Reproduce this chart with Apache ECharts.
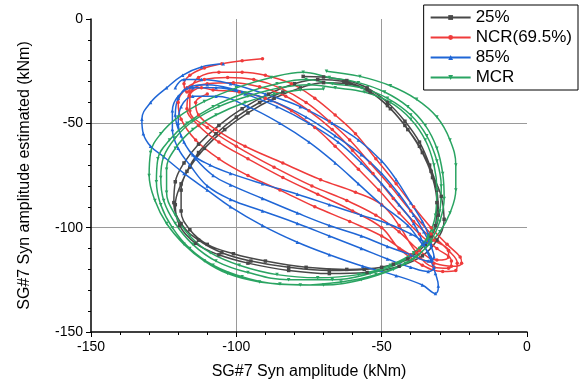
<!DOCTYPE html>
<html>
<head>
<meta charset="utf-8">
<script src="https://cdn.jsdelivr.net/npm/echarts@6/dist/echarts.min.js"></script>
<style>
  html, body { margin: 0; padding: 0; background: #fff; }
  #main { width: 579px; height: 385px; }
</style>
</head>
<body>
<div id="main"></div>
<script>
// tick labels / axis range
const xTicks = [-150, -100, -50, 0]
const yTicks = [-150, -100, -50, 0]

// 25% load (several overlapping cycles)
const load25 = [
  [-77, -27.5], [-70, -27.8], [-62, -29.5], [-55, -33], [-48, -40], [-42, -49], [-37, -59], [-33.5, -70],
  [-31, -82], [-30.5, -94], [-33, -104], [-38, -112], [-46, -117.5], [-56, -120], [-68, -120.5], [-82, -119],
  [-95, -116], [-105, -112], [-113, -106], [-119, -98], [-121.5, -88], [-121, -78], [-118, -69], [-113, -60],
  [-106, -51], [-98, -43], [-89, -36], [-80, -31], [-72, -29], [-63, -30], [-55, -34], [-48, -41.5],
  [-42, -51], [-37, -61], [-33, -73], [-29.5, -85], [-28.5, -96], [-31, -106], [-36, -113.5], [-44, -118.5],
  [-55, -121.5], [-68, -122], [-82, -120.5], [-96, -117], [-106, -113], [-114, -107.5], [-119.5, -99], [-121, -89],
  [-119, -79], [-116, -71], [-111, -62], [-104, -53], [-96, -45], [-87, -38], [-78, -33], [-70, -30.5],
  [-62, -31], [-54, -35], [-47, -43], [-41, -53], [-36, -64], [-32.5, -76], [-31, -88], [-31.5, -99],
  [-35, -108], [-41, -115], [-50, -119], [-62, -120], [-76, -119], [-90, -116], [-101, -112.5], [-110, -108],
  [-116, -101], [-119, -92], [-119, -82], [-117, -73], [-113, -64], [-107, -55], [-100, -47], [-92, -40], [-84, -35]
]

// NCR (69.5%)
const ncr = [
  [-91, -19], [-98, -20], [-105, -21.5], [-111, -23.5], [-116, -27], [-118, -31], [-117, -35],
  [-113, -28], [-106, -25.5], [-98, -25.5], [-90, -27], [-81, -31], [-73, -38], [-66, -46], [-59, -55],
  [-52, -67], [-45, -79], [-39, -90], [-33, -100], [-27.5, -108], [-23, -114], [-22.5, -117], [-26, -118.5],
  [-32, -117], [-40, -113], [-50, -104], [-61, -97], [-73, -90], [-85, -82], [-96, -75], [-106, -67],
  [-114, -58], [-119, -48], [-120, -40], [-117, -33],
  [-111, -29], [-103, -28], [-94, -29], [-85, -33], [-76, -40], [-68, -49], [-61, -58], [-54, -69],
  [-47, -80], [-40, -92], [-33, -103], [-27, -111], [-24, -117], [-24.5, -120.5], [-29, -121], [-36, -118],
  [-44, -110], [-50, -100], [-60, -92], [-72, -84], [-84, -76], [-96, -67], [-106, -59], [-113, -51],
  [-117, -43], [-116, -35],
  [-110, -31], [-101, -30.5], [-92, -32.5], [-83, -37], [-75, -44], [-67, -53], [-60, -63], [-53, -74],
  [-46, -86], [-39, -97], [-32, -106], [-27, -111], [-27, -114], [-31, -115.5], [-37, -111], [-44, -102],
  [-52, -94], [-62, -87], [-74, -80], [-87, -71], [-100, -61], [-110, -52], [-116, -44], [-116, -37], [-112, -33],
  [-108, -34], [-99, -35], [-90, -38], [-81, -44], [-73, -52], [-66, -61], [-58, -72], [-51, -82],
  [-44, -93], [-37, -103], [-31, -110], [-26, -116], [-27, -119.5], [-32, -119], [-38, -112], [-44, -99],
  [-50, -89], [-59, -83], [-71, -77], [-84, -69], [-97, -61], [-107, -53], [-113, -46], [-114, -40], [-110, -36]
]

// 85% load
const load85 = [
  [-104.5, -21.5], [-112, -23], [-118.5, -27], [-124, -33], [-129.5, -40], [-132.5, -48], [-132, -55], [-129.5, -61],
  [-125, -66], [-118, -74], [-110, -82], [-102, -90], [-91, -99], [-79, -107], [-68, -113], [-56.5, -118.5],
  [-45, -123], [-36, -127.5], [-31.5, -131.5], [-30.5, -128], [-31.5, -122], [-33, -116], [-35.5, -108], [-39, -98],
  [-44, -89], [-50, -79], [-57, -69], [-65, -59], [-75, -50], [-86, -42], [-97, -36], [-107, -33],
  [-115, -33], [-120, -37], [-122, -44], [-122, -53], [-120, -62], [-116, -70],
  [-110, -80], [-102, -86.5], [-91, -92], [-79, -98], [-68, -104], [-57, -110], [-48, -115], [-40, -119],
  [-34, -121], [-32, -119], [-33, -114], [-36, -108], [-41, -99], [-50, -89], [-58, -79], [-66, -69],
  [-75, -59], [-85, -50], [-96, -42], [-107, -37], [-115, -37], [-119, -42], [-120, -50], [-118, -59], [-114, -67],
  [-108, -75], [-102, -79.5], [-91, -86], [-79, -93], [-68, -99], [-57, -104], [-48, -109], [-40, -113],
  [-34, -116], [-32, -114], [-33, -109], [-35.5, -102], [-39, -94], [-44, -84], [-50, -74], [-57, -65],
  [-66, -56], [-76, -47], [-88, -39], [-100, -34], [-110, -31.5], [-117, -33], [-120, -38], [-121, -46],
  [-119, -56], [-115, -65],
  [-109, -70], [-102, -74], [-91, -79], [-79, -84], [-68, -89], [-57, -94], [-48, -98], [-40, -103],
  [-35, -107], [-33, -108], [-34, -103], [-36, -97], [-40, -88], [-45, -77], [-50, -68], [-58, -58],
  [-67, -50], [-78, -42], [-90, -36], [-102, -31], [-112, -29], [-118, -29], [-121, -33]
]

// MCR
const mcr = [
  [-69, -25], [-57.5, -27.5], [-47, -32], [-38, -38.5], [-31, -47], [-26.5, -58], [-24.5, -70], [-24.5, -82],
  [-26.5, -93], [-30, -102], [-35, -110], [-42, -117], [-52, -122.5], [-64, -126], [-78, -127.5], [-92, -126],
  [-103, -122], [-111, -116], [-118, -108], [-124, -98], [-128, -87], [-130, -75], [-129.5, -64], [-126, -55],
  [-120, -47], [-111, -39.5], [-100, -33], [-88, -28], [-77, -25.5],
  [-68, -28], [-58, -30.5], [-49, -35], [-41, -42], [-35, -51], [-31, -62], [-29, -74], [-28.5, -86],
  [-30, -97], [-33, -106], [-38, -114], [-46, -120], [-57, -125], [-70, -127.5], [-85, -127], [-98, -123.5],
  [-108, -118], [-116, -110], [-122, -100], [-126, -89], [-127.5, -78], [-127, -67], [-123, -58], [-117, -50],
  [-108, -42], [-97, -35.5], [-86, -31], [-76, -29],
  [-67, -31], [-57, -33], [-48, -38], [-40, -46], [-34.5, -56], [-31, -68], [-29.5, -80], [-30, -92],
  [-32.5, -102], [-37, -110], [-44, -117], [-54, -122], [-67, -125], [-82, -125], [-96, -121.5], [-107, -116],
  [-115, -108], [-121, -98], [-125, -87], [-126, -76], [-125, -66], [-121, -57], [-115, -49], [-106, -42],
  [-96, -37], [-85, -33], [-75, -31.5],
  [-66, -33], [-56, -35], [-47, -40], [-40, -48], [-35, -58], [-32, -70], [-31, -82], [-31.5, -94],
  [-34, -104], [-39, -112], [-47, -118], [-58, -122.5], [-72, -124], [-86, -122.5], [-99, -118], [-109, -112],
  [-116, -104], [-121, -94], [-124, -83], [-124, -72], [-121, -62], [-115, -53], [-107, -46], [-97, -40],
  [-87, -36], [-78, -34], [-70, -33.5]
]

const chart = echarts.init(document.getElementById('main'))
const font = 'Liberation Sans, Arial, sans-serif'

function axis (name, extra) {
  return Object.assign({
    type: 'value',
    name: name,
    nameLocation: 'middle',
    nameTextStyle: { fontFamily: font, fontSize: 16, color: '#000' },
    min: xTicks[0],
    max: xTicks[xTicks.length - 1],
    interval: 50,
    axisLine: { onZero: false, lineStyle: { color: '#000', width: 1.5 } },
    axisTick: { inside: false, length: 5, lineStyle: { color: '#000' } },
    minorTick: { show: true, splitNumber: 5, length: 3, lineStyle: { color: '#000' } },
    axisLabel: { fontFamily: font, fontSize: 14, color: '#000' },
    splitLine: { show: true, showMinLine: false, showMaxLine: false, lineStyle: { color: '#9a9a9a', width: 1 } },
    minorSplitLine: { show: false }
  }, extra)
}

function loopSeries (name, data, color, symbol, rotate) {
  return {
    name: name,
    type: 'line',
    data: data,
    smooth: 0.4,
    symbol: symbol,
    symbolSize: 3.5,
    symbolRotate: rotate || 0,
    showAllSymbol: true,
    lineStyle: { color: color, width: 1.5 },
    itemStyle: { color: color }
  }
}

chart.setOption({
  animation: false,
  backgroundColor: '#fff',
  grid: { left: 91, right: 52, top: 19, bottom: 52, containLabel: false },
  legend: {
    orient: 'vertical',
    right: 1,
    top: 5,
    padding: [4, 6, 4, 6],
    itemGap: 3,
    itemWidth: 40,
    itemHeight: 6,
    borderColor: '#000',
    borderWidth: 1,
    borderRadius: 0,
    textStyle: { fontFamily: font, fontSize: 17, color: '#000' },
    data: ['25%', 'NCR(69.5%)', '85%', 'MCR']
  },
  xAxis: axis('SG#7 Syn amplitude (kNm)', { nameGap: 32 }),
  yAxis: axis('SG#7 Syn amplitude estimated (kNm)', {
    min: yTicks[0],
    max: yTicks[yTicks.length - 1],
    nameGap: 58
  }),
  series: [
    loopSeries('25%', load25, '#484848', 'rect'),
    loopSeries('NCR(69.5%)', ncr, '#ef3b3b', 'circle'),
    loopSeries('85%', load85, '#1f66d6', 'triangle'),
    loopSeries('MCR', mcr, '#2aa462', 'triangle', 180)
  ]
})
</script>
</body>
</html>
